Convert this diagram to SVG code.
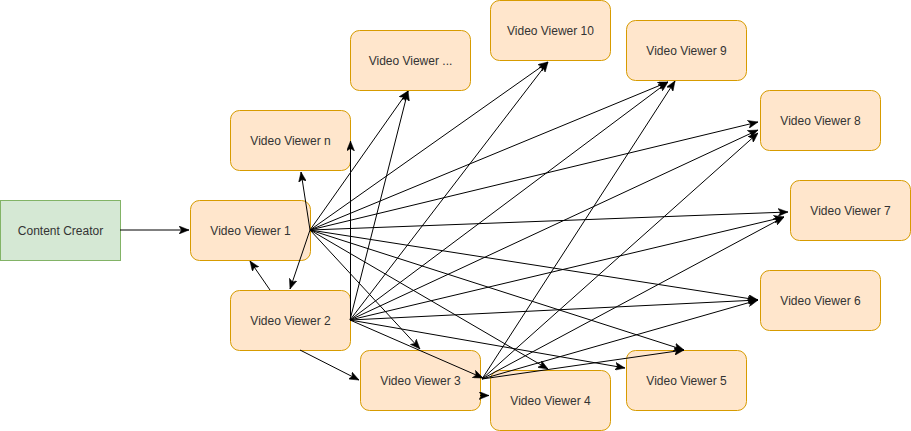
<svg xmlns="http://www.w3.org/2000/svg" width="911" height="431" viewBox="0 0 911 431">
<style>
.v{fill:#ffe6cc;stroke:#d79b00;stroke-width:1}
.c{fill:#d5e8d4;stroke:#82b366;stroke-width:1}
.t{font-family:"Liberation Sans",Arial,Helvetica,sans-serif;font-size:12px;fill:#333333;text-anchor:middle}
#edges line{stroke:#000;stroke-width:1;fill:none;marker-end:url(#arr)}
</style>
<defs>
<marker id="arr" markerUnits="userSpaceOnUse" markerWidth="10" markerHeight="8" viewBox="0 0 10 8" refX="10" refY="4" orient="auto">
<path d="M0,0 L10,4 L0,8 L2.5,4 Z" fill="#000" stroke="#000" stroke-width="0.5"/>
</marker>
</defs>
<rect width="911" height="431" fill="#ffffff"/>
<g id="content-creator"><rect class="c" x="0.5" y="200.5" width="120" height="60"/><text class="t" x="60.5" y="234.5">Content Creator</text></g>
<g id="vv1"><rect class="v" x="190.5" y="200.5" width="120" height="60" rx="9"/><text class="t" x="250.5" y="234.5">Video Viewer 1</text></g>
<g id="vv2"><rect class="v" x="230.5" y="290.5" width="120" height="60" rx="9"/><text class="t" x="290.5" y="324.5">Video Viewer 2</text></g>
<g id="vvn"><rect class="v" x="230.5" y="110.5" width="120" height="60" rx="9"/><text class="t" x="290.5" y="144.5">Video Viewer n</text></g>
<g id="vvdots"><rect class="v" x="350.5" y="30.5" width="120" height="60" rx="9"/><text class="t" x="410.5" y="64.5">Video Viewer ...</text></g>
<g id="vv10"><rect class="v" x="490.5" y="0.5" width="120" height="60" rx="9"/><text class="t" x="550.5" y="34.5">Video Viewer 10</text></g>
<g id="vv9"><rect class="v" x="626.5" y="20.5" width="120" height="60" rx="9"/><text class="t" x="686.5" y="54.5">Video Viewer 9</text></g>
<g id="vv8"><rect class="v" x="760.5" y="90.5" width="120" height="60" rx="9"/><text class="t" x="820.5" y="124.5">Video Viewer 8</text></g>
<g id="vv7"><rect class="v" x="790.5" y="180.5" width="120" height="60" rx="9"/><text class="t" x="850.5" y="214.5">Video Viewer 7</text></g>
<g id="vv6"><rect class="v" x="760.5" y="270.5" width="120" height="60" rx="9"/><text class="t" x="820.5" y="304.5">Video Viewer 6</text></g>
<g id="vv5"><rect class="v" x="626.5" y="350.5" width="120" height="60" rx="9"/><text class="t" x="686.5" y="384.5">Video Viewer 5</text></g>
<g id="vv4"><rect class="v" x="490.5" y="370.5" width="120" height="60" rx="9"/><text class="t" x="550.5" y="404.5">Video Viewer 4</text></g>
<g id="vv3"><rect class="v" x="360.5" y="350.5" width="120" height="60" rx="9"/><text class="t" x="420.5" y="384.5">Video Viewer 3</text></g>
<g id="edges">
<line x1="120" y1="230" x2="189" y2="230"/>
<line x1="270" y1="290" x2="250" y2="261"/>
<line x1="310" y1="230" x2="290" y2="289"/>
<line x1="310" y1="230" x2="301" y2="172"/>
<line x1="310" y1="230" x2="408" y2="91"/>
<line x1="310" y1="230" x2="548" y2="62"/>
<line x1="310" y1="230" x2="668" y2="82"/>
<line x1="310" y1="230" x2="758" y2="122"/>
<line x1="310" y1="230" x2="788" y2="212"/>
<line x1="310" y1="230" x2="758" y2="300"/>
<line x1="310" y1="230" x2="684" y2="350"/>
<line x1="310" y1="230" x2="548" y2="369"/>
<line x1="310" y1="230" x2="420" y2="349"/>
<line x1="350.5" y1="320" x2="350.5" y2="141"/>
<line x1="350" y1="320" x2="408" y2="91"/>
<line x1="350" y1="320" x2="548" y2="62"/>
<line x1="350" y1="320" x2="668" y2="82"/>
<line x1="350" y1="320" x2="758" y2="130"/>
<line x1="350" y1="320" x2="784" y2="217"/>
<line x1="350" y1="320" x2="758" y2="300"/>
<line x1="350" y1="320" x2="625" y2="368"/>
<line x1="350" y1="320" x2="483" y2="378"/>
<line x1="300" y1="350" x2="359" y2="380"/>
<line x1="482" y1="379" x2="675" y2="81"/>
<line x1="482" y1="379" x2="758" y2="133"/>
<line x1="482" y1="379" x2="784" y2="217"/>
<line x1="482" y1="379" x2="758" y2="300"/>
<line x1="482" y1="379" x2="684" y2="350"/>
<line x1="480" y1="395.5" x2="489" y2="395.5"/>
</g>
</svg>
